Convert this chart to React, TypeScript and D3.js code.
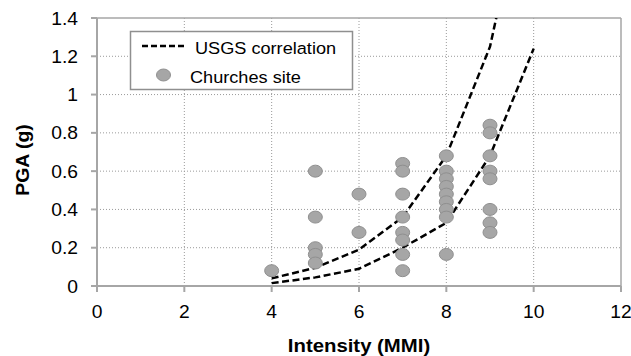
import * as d3 from 'd3';

// chart data
const xTicks = [0, 2, 4, 6, 8, 10, 12];
const yTicks = [0, 0.2, 0.4, 0.6, 0.8, 1, 1.2, 1.4];
const yTickLabels = ['0', '0.2', '0.4', '0.6', '0.8', '1', '1.2', '1.4'];

const usgsMmi = [4, 5, 6, 7, 8, 9, 10];
const usgsUpper = [0.04, 0.095, 0.19, 0.36, 0.68, 1.25, 2.3];
const usgsLower = [0.015, 0.045, 0.09, 0.2, 0.33, 0.68, 1.24];

const churchMmi = [
  4,
  5, 5, 5, 5, 5,
  6, 6,
  7, 7, 7, 7, 7, 7, 7, 7,
  8, 8, 8, 8, 8, 8, 8, 8, 8,
  9, 9, 9, 9, 9, 9, 9, 9,
];
const churchPga = [
  0.08,
  0.6, 0.36, 0.2, 0.165, 0.12,
  0.48, 0.28,
  0.64, 0.6, 0.48, 0.36, 0.28, 0.24, 0.165, 0.08,
  0.68, 0.6, 0.56, 0.52, 0.48, 0.44, 0.4, 0.36, 0.165,
  0.84, 0.8, 0.68, 0.6, 0.56, 0.4, 0.33, 0.28,
];

const legendLabels = ['USGS correlation', 'Churches site'];

const width = 631;
const height = 356;
const plot = { left: 97, right: 621, top: 18, bottom: 286 };
const SX = 1.1; // the source picture is slightly stretched horizontally
const font = 'Liberation Sans, Arial, sans-serif';

export default function App() {
  const x = d3.scaleLinear().domain([0, 12]).range([plot.left, plot.right]);
  const y = d3.scaleLinear().domain([0, 1.4]).range([plot.bottom, plot.top]);

  const line = d3.line<number>()
    .x((_, i) => x(usgsMmi[i]))
    .y((d) => y(d));

  const axisColor = '#a6a6a6';
  const gridColor = '#9a9a9a';

  return (
    <svg
      width={width}
      height={height}
      style={{ position: 'absolute', left: 0, top: 0, background: '#fff' }}
    >
      <defs>
        <clipPath id="plot-clip">
          <rect x={plot.left} y={plot.top} width={plot.right - plot.left} height={plot.bottom - plot.top} />
        </clipPath>
      </defs>

      {/* gridlines */}
      {xTicks.filter((t) => t > 0 && t < 12).map((t) => (
        <line key={`gx${t}`} x1={x(t)} x2={x(t)} y1={plot.top} y2={plot.bottom}
          stroke={gridColor} strokeWidth={1} strokeDasharray="1,2" />
      ))}
      {yTicks.filter((t) => t > 0 && t < 1.4).map((t) => (
        <line key={`gy${t}`} x1={plot.left} x2={plot.right} y1={y(t)} y2={y(t)}
          stroke={gridColor} strokeWidth={1} strokeDasharray="1,2" />
      ))}

      {/* plot border (top / right) */}
      <line x1={plot.left} x2={plot.right} y1={plot.top} y2={plot.top} stroke={axisColor} strokeWidth={1.5} />
      <line x1={plot.right} x2={plot.right} y1={plot.top} y2={plot.bottom} stroke={axisColor} strokeWidth={1.5} />

      {/* axes */}
      <line x1={plot.left} x2={plot.left} y1={plot.top} y2={plot.bottom} stroke={axisColor} strokeWidth={2} />
      <line x1={plot.left} x2={plot.right} y1={plot.bottom} y2={plot.bottom} stroke={axisColor} strokeWidth={2} />
      {yTicks.map((t) => (
        <line key={`ty${t}`} x1={plot.left - 6} x2={plot.left} y1={y(t)} y2={y(t)} stroke={axisColor} strokeWidth={2} />
      ))}
      {xTicks.map((t) => (
        <line key={`tx${t}`} x1={x(t)} x2={x(t)} y1={plot.bottom} y2={plot.bottom + 6} stroke={axisColor} strokeWidth={2} />
      ))}

      {/* tick labels */}
      {yTicks.map((t, i) => (
        <text key={`ly${t}`} transform={`translate(78,${y(t) + 6.5}) scale(${SX},1)`}
          textAnchor="end" fontFamily={font} fontSize={17.5} fill="#000">
          {yTickLabels[i]}
        </text>
      ))}
      {xTicks.map((t) => (
        <text key={`lx${t}`} transform={`translate(${x(t)},318) scale(${SX},1)`}
          textAnchor="middle" fontFamily={font} fontSize={17.5} fill="#000">
          {t}
        </text>
      ))}

      {/* axis titles */}
      <text transform={`translate(${(plot.left + plot.right) / 2},351.5) scale(${SX},1)`}
        textAnchor="middle" fontFamily={font} fontSize={18.5} fontWeight="bold" fill="#000">
        Intensity (MMI)
      </text>
      <text transform={`translate(29,160) rotate(-90) scale(1.05,1)`}
        textAnchor="middle" fontFamily={font} fontSize={18.5} fontWeight="bold" fill="#000">
        PGA (g)
      </text>

      {/* USGS correlation */}
      <g clipPath="url(#plot-clip)">
        {[usgsUpper, usgsLower].map((s, i) => (
          <path key={`u${i}`} d={line(s) ?? ''} fill="none" stroke="#000"
            strokeWidth={2.5} strokeDasharray="7,3.5" />
        ))}
      </g>

      {/* churches */}
      {churchPga.map((v, i) => (
        <ellipse key={`c${i}`} cx={x(churchMmi[i])} cy={y(v)} rx={7} ry={6}
          fill="#a6a6a6" stroke="#8f8f8f" strokeWidth={1} />
      ))}

      {/* legend */}
      <rect x={130.5} y={31.5} width={222} height={58} fill="#fff" stroke="#8f8f8f" strokeWidth={1.5} />
      <line x1={142} x2={186} y1={46} y2={46} stroke="#000" strokeWidth={2.5} strokeDasharray="6,3" />
      <text transform={`translate(195,53.5) scale(${SX},1)`} fontFamily={font} fontSize={16.5} fill="#000">
        {legendLabels[0]}
      </text>
      <ellipse cx={163.5} cy={75} rx={7} ry={6} fill="#a6a6a6" stroke="#8f8f8f" strokeWidth={1} />
      <text transform={`translate(190,83) scale(${SX},1)`} fontFamily={font} fontSize={16.5} fill="#000">
        {legendLabels[1]}
      </text>
    </svg>
  );
}
